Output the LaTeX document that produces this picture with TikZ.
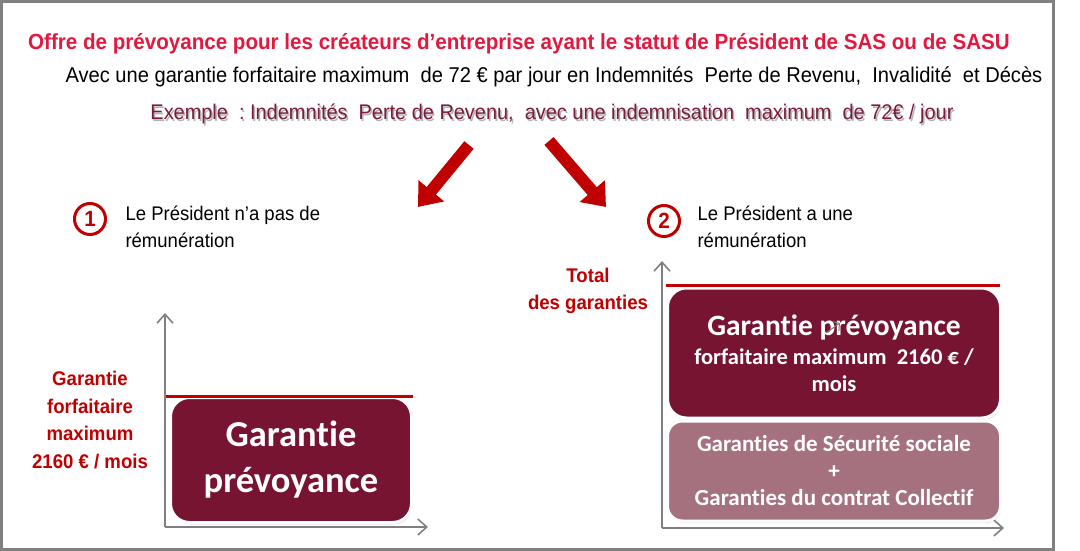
\documentclass[tikz,border=0pt]{standalone}
\usepackage{fontspec}
\setmainfont{Liberation Sans}
\newfontfamily\arialn[FakeStretch=0.94]{Liberation Sans}
\newfontfamily\calib[Ligatures=NoCommon]{Carlito}
\usetikzlibrary{arrows.meta,positioning,shadows}
\definecolor{Rouge}{HTML}{C00000}
\definecolor{Cerise}{HTML}{E2183F}
\definecolor{Bordeaux}{HTML}{761432}
\definecolor{Vieuxrose}{HTML}{A6717F}
\definecolor{Lie}{HTML}{7B1C3A}
\newcommand{\ombre}[1]{\makebox[0pt][l]{\raisebox{-1.5pt}{\hspace{1.5pt}\textcolor{black!30}{#1}}}#1}

\begin{document}
\begin{tikzpicture}[x=1pt,y=-1pt,>=Latex,
  axe/.style={draw=gray,line width=1.6pt,-{Straight Barb[length=9pt,width=16pt]}},
  fleche/.style={draw=Rouge,line width=12pt,-{Triangle[length=21pt,width=32pt]}},
  seuil/.style={draw=Rouge,line width=3pt},
  rond/.style={circle,draw=Rouge,line width=3pt,minimum size=31pt,inner sep=0pt,text=Rouge,font=\arialn\bfseries\fontsize{22}{22}\selectfont},
  legende/.style={align=left,font=\arialn\fontsize{19.7}{27}\selectfont},
  etiquette/.style={align=center,text=Rouge,font=\arialn\bfseries\fontsize{19.8}{27.5}\selectfont},
  boite/.style={rounded corners=19pt,draw=white,line width=3pt,text=white,align=center,inner sep=0pt,
    drop shadow={shadow xshift=1pt,shadow yshift=-2pt,opacity=0.25}}]
\useasboundingbox (0,0) rectangle (1080,551);
\draw[draw=gray,line width=3pt] (1.5,1.5) rectangle (1053,549);
% en-tete
\node[anchor=base,text=Cerise,font=\arialn\bfseries\fontsize{21.9}{25}\selectfont] (titre) at (519,50)
  {Offre de prévoyance pour les créateurs d’entreprise ayant le statut de Président de SAS ou de SASU};
\node[anchor=base,font=\arialn\fontsize{21.4}{24}\selectfont] (sous) at (554,83)
  {Avec une garantie forfaitaire maximum\ \ de 72 € par jour en Indemnités\ \ Perte de Revenu,\ \ Invalidité\ \ et Décès};
\node[anchor=base,text=Lie,font=\arialn\fontsize{21.2}{25}\selectfont] (ex) at (552,120)
  {\ombre{Exemple\ \ :\ Indemnités\ \ Perte de Revenu,\ \ avec une indemnisation\ \ maximum\ \ de 72€ / jour}};
\coordinate (f1a) at (469,145); \coordinate (f1b) at (418,207);
\coordinate (f2a) at (549,141); \coordinate (f2b) at (606,207);
\draw[fleche] (f1a) -- (f1b);
\draw[fleche] (f2a) -- (f2b);
% cas 1
\node[rond] (n1) at (90,219) {1};
\node[legende,anchor=north west] (t1) at (122,202) {Le Président n’a pas de\\rémunération};
\coordinate (o1) at (165,527); \coordinate (y1) at (165,313); \coordinate (x1) at (428,527);
\draw[axe] (o1) -- (y1);
\draw[axe] (o1) -- (x1);
\node[boite,fill=Bordeaux,minimum width=241pt,minimum height=125pt,font=\calib\bfseries\fontsize{36.5}{46}\selectfont] (b1) at (291,460)
  {Garantie\\prévoyance};
\coordinate (r1a) at (166,396); \coordinate (r1b) at (413,396);
\draw[seuil] (r1a) -- (r1b);
\node[etiquette] (e1) at (90,420) {Garantie\\forfaitaire\\maximum\\2160 € / mois};
% cas 2
\node[rond] (n2) at (664,221) {2};
\node[legende,anchor=north west] (t2) at (694,202) {Le Président a une\\rémunération};
\coordinate (o2) at (662,528); \coordinate (y2) at (662,261); \coordinate (x2) at (1004,528);
\draw[axe] (o2) -- (y2);
\draw[axe] (o2) -- (x2);
\node[boite,fill=Bordeaux,minimum width=333pt,minimum height=130pt,font=\calib\bfseries\fontsize{22.5}{27.5}\selectfont] (b2) at (834,353)
  {{\fontsize{29.5}{31}\selectfont Garantie prévoyance}\\[1.5pt]
   forfaitaire maximum\ \ 2160 € /\\mois};
\node[boite,rounded corners=15pt,fill=Vieuxrose,minimum width=333pt,minimum height=100pt,font=\calib\bfseries\fontsize{23}{27}\selectfont] (b3) at (834,471)
  {Garanties de Sécurité sociale\\+\\Garanties du contrat Collectif};
\coordinate (r2a) at (666,285); \coordinate (r2b) at (1000,285);
\draw[seuil] (r2a) -- (r2b);
\node[etiquette] (e2) at (588,291) {Total\\des garanties};
\coordinate (ga) at (826,333); \coordinate (gb) at (840,323);
\draw[draw=gray,line width=1pt,-{Straight Barb[length=5pt,width=12pt]}] (ga) -- (gb);
\end{tikzpicture}
\end{document}
